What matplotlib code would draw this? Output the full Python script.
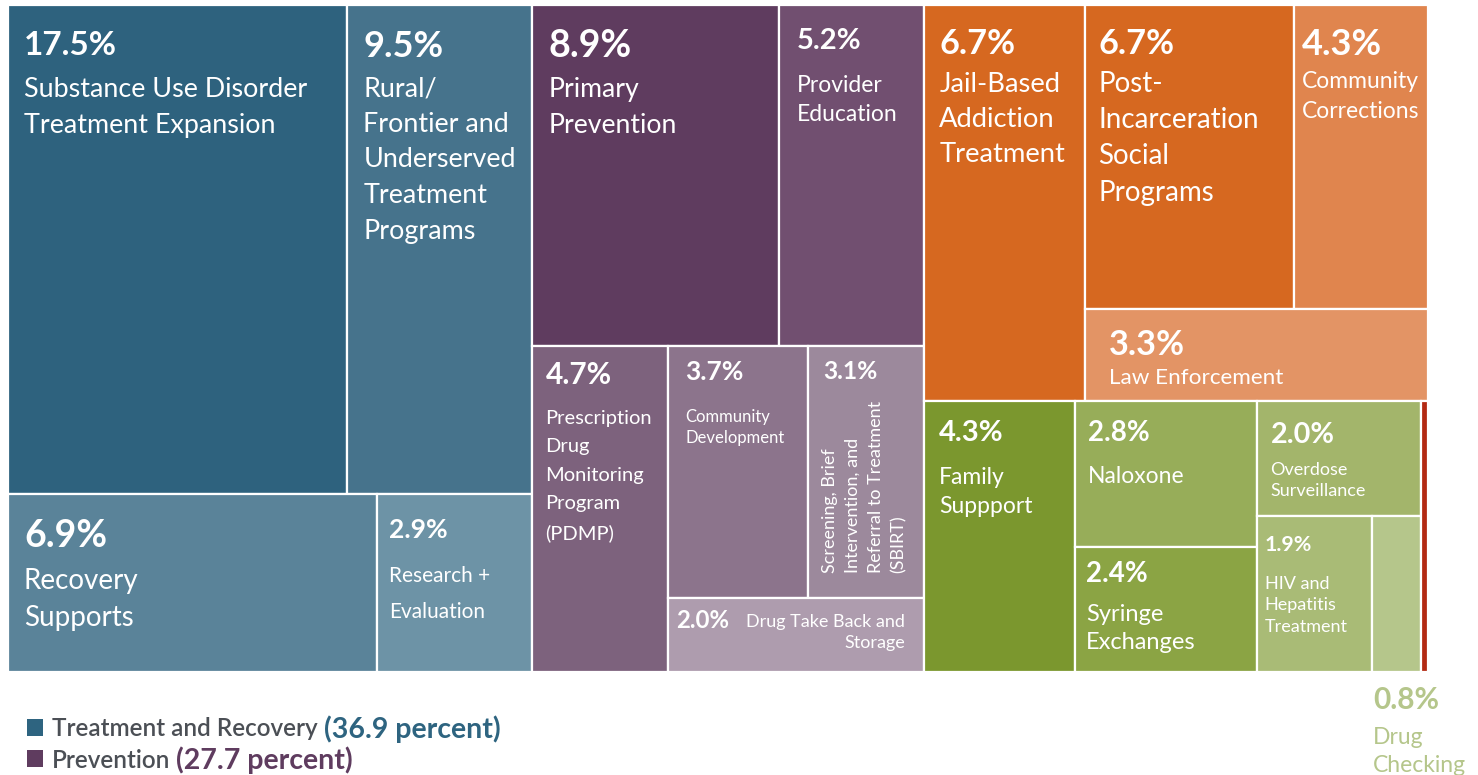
import matplotlib.pyplot as plt
from matplotlib.patches import Rectangle

plt.rcParams['font.family'] = ['Lato', 'DejaVu Sans']

# shares of spending, percent
shares = [17.5, 9.5, 6.9, 2.9,
          8.9, 5.2, 4.7, 3.7, 3.1, 2.0,
          6.7, 6.7, 4.3, 3.3,
          4.3, 2.8, 2.4, 2.0, 1.9, 0.8, 0.2]
labels = ["Substance Use Disorder\nTreatment Expansion",
          "Rural/\nFrontier and\nUnderserved\nTreatment\nPrograms",
          "Recovery\nSupports",
          "Research +\nEvaluation",
          "Primary\nPrevention",
          "Provider\nEducation",
          "Prescription\nDrug\nMonitoring\nProgram\n(PDMP)",
          "Community\nDevelopment",
          "Screening, Brief\nIntervention, and\nReferral to Treatment\n(SBIRT)",
          "Drug Take Back and\nStorage",
          "Jail-Based\nAddiction\nTreatment",
          "Post-\nIncarceration\nSocial\nPrograms",
          "Community\nCorrections",
          "Law Enforcement",
          "Family\nSuppport",
          "Naloxone",
          "Syringe\nExchanges",
          "Overdose\nSurveillance",
          "HIV and\nHepatitis\nTreatment",
          "Drug\nChecking",
          ""]
colors = ["#2E627E", "#46738C", "#5A8399", "#6D93A6",
          "#5F3C5F", "#714F70", "#7D627D", "#8C748C", "#9C899C", "#AE9CAE",
          "#D66820", "#D66820", "#E0854E", "#E39465",
          "#7B972E", "#97AD59", "#8BA444", "#A3B56B", "#A9BB76", "#B5C68B", "#B32A14"]

legend_names = ["Treatment and Recovery", "Prevention"]
legend_totals = ["(36.9 percent)", "(27.7 percent)"]
legend_colors = ["#2E6480", "#5F3C5F"]

# how cells nest: "h" = side by side, "v" = stacked
tree = ("h", [("v", [("h", [0, 1]), ("h", [2, 3])]),
              ("v", [("h", [4, 5]), ("h", [6, ("v", [("h", [7, 8]), 9])])]),
              ("v", [("h", [10, ("v", [("h", [11, 12]), 13])]),
                     ("h", [14, ("v", [15, 16]), ("v", [17, ("h", [18, 19])]), 20])])])


def total(node):
    if isinstance(node, int):
        return shares[node]
    return sum(total(k) for k in node[1])


def layout(node, x, y, w, h, out):
    if isinstance(node, int):
        out[node] = (x, y, w, h)
        return
    direction, kids = node
    tot = total(node)
    pos = 0.0
    for k in kids:
        frac = total(k) / tot
        if direction == "h":
            layout(k, x + pos * w, y, frac * w, h, out)
        else:
            layout(k, x, y + pos * h, w, frac * h, out)
        pos += frac


cells = {}
layout(tree, 0, 0, 1, 1, cells)

# text style per cell: pct size, label size, dx, dy, gap (px), label line step (px)
styles = {
    0: (24, 19.4, 16, 26, 46, 35),
    1: (26, 19.4, 16, 25, 46, 35),
    2: (27, 20, 16, 25, 49, 35),
    3: (19, 15, 12, 24, 48, 35),
    4: (27, 19.2, 17, 24, 48, 35),
    5: (21, 16.5, 17, 23, 47, 28),
    6: (21.5, 14.5, 14, 15, 49, 31),
    7: (19, 12, 17, 14, 49, 20),
    8: (17.7, 13, 16, 14, 0, 23.5),
    9: (17.3, 13, 8, 11, 5, 21),
    10: (24.7, 19.7, 15, 23, 44, 35),
    11: (24.7, 20, 13, 23, 43, 35),
    12: (26, 16.5, 8, 23, 43, 30),
    13: (24.7, 16.2, 24, 20, 39, 30),
    14: (21, 16.5, 15, 19, 47, 29),
    15: (20, 16.5, 13, 19, 46, 29),
    16: (20, 17, 11, 14, 43, 28),
    17: (20.7, 13, 14, 21, 40, 21.5),
    18: (15.4, 13, 8, 19, 41, 21.5),
    19: (21.5, 16.5, 1, 14, 41, 27.5),
}


def spacing(step_px, size_pt):
    # matplotlib line step is roughly 1.176 px per pt for Lato at 100 dpi
    return step_px / (1.176 * size_pt)


fig = plt.figure(figsize=(14.78, 7.75), dpi=100)
ax = fig.add_axes([8 / 1478, 1 - 672 / 775, 1420 / 1478, 667 / 775])
ax.set_xlim(0, 1)
ax.set_ylim(1, 0)
ax.axis("off")

for i, (x, y, w, h) in cells.items():
    ax.add_patch(Rectangle((x, y), w, h, facecolor=colors[i],
                           edgecolor="white", linewidth=1.6))
    if i not in styles:
        continue
    pfs, lfs, dx, dy, gap, step = styles[i]
    ls = spacing(step, lfs)
    pct = f"{shares[i]:.1f}%"
    if i == 19:
        # too small: label sits under the cell
        kw = dict(xycoords="data", textcoords="offset pixels", color=colors[i],
                  ha="left", va="top", annotation_clip=False)
        ax.annotate(pct, (x, y + h), xytext=(dx, -dy), fontsize=pfs,
                    fontweight="bold", **kw)
        ax.annotate(labels[i], (x, y + h), xytext=(dx, -dy - gap),
                    fontsize=lfs, linespacing=ls, **kw)
        continue
    kw = dict(xycoords="data", textcoords="offset pixels", color="white")
    ax.annotate(pct, (x, y), xytext=(dx, -dy), fontsize=pfs,
                fontweight="bold", ha="left", va="top", **kw)
    if i == 8:
        ax.annotate(labels[i], (x, y + h), xytext=(dx - 2, 25), fontsize=lfs,
                    rotation=90, ha="left", va="bottom", multialignment="left",
                    linespacing=ls, **kw)
    elif i == 9:
        ax.annotate(labels[i], (x + w, y), xytext=(-19, -dy - gap), fontsize=lfs,
                    ha="right", va="top", multialignment="right",
                    linespacing=ls, **kw)
    else:
        ax.annotate(labels[i], (x, y), xytext=(dx, -dy - gap), fontsize=lfs,
                    ha="left", va="top", linespacing=ls, **kw)

# legend under the chart
fig.canvas.draw()
renderer = fig.canvas.get_renderer()
for k, name in enumerate(legend_names):
    yc = 1 - (727 + 31 * k) / 775
    fig.patches.append(Rectangle((27 / 1478, yc - 8.5 / 775), 16 / 1478, 17 / 775,
                                 transform=fig.transFigure, facecolor=legend_colors[k],
                                 edgecolor="none"))
    t = fig.text(52 / 1478, yc, name, fontsize=17.5, fontweight="semibold",
                 color="#4B4F55", va="center_baseline")
    ext = t.get_window_extent(renderer)
    fig.text(ext.x1 / 1478 + 6 / 1478, yc, legend_totals[k], fontsize=20.5,
             fontweight="bold", color=legend_colors[k], va="center_baseline")

fig.savefig("out.png", dpi=100)
